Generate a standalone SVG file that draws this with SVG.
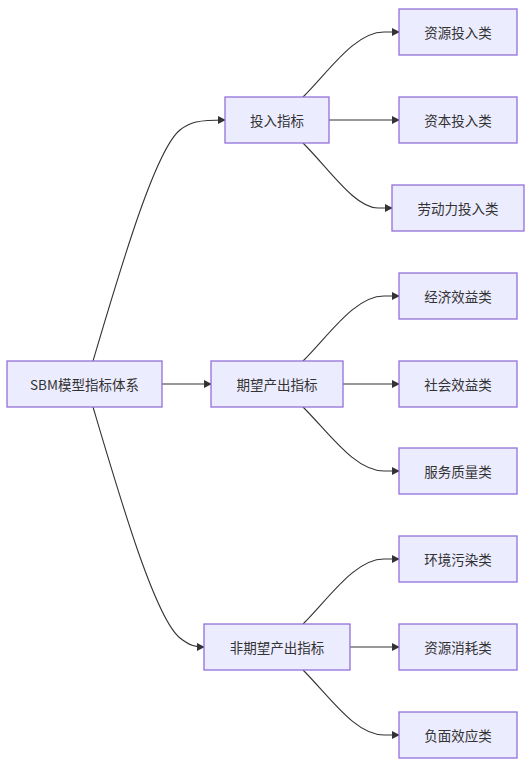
<svg xmlns="http://www.w3.org/2000/svg" width="531" height="768" viewBox="0 0 531 768">
<style>
.n rect{fill:#ECECFF;stroke:#9370DB;stroke-width:1.3}
.n text{font-family:"Noto Sans CJK SC","Liberation Sans",sans-serif;font-size:13.5px;fill:#333;text-anchor:middle;dominant-baseline:central}
.e path{fill:none;stroke:#333;stroke-width:1.1}
</style>
<defs>
<marker id="a" viewBox="0 0 10 10" refX="9" refY="5" markerWidth="8" markerHeight="8" markerUnits="userSpaceOnUse" orient="auto">
<path d="M0,0 L10,5 L0,10 z" fill="#333"/>
</marker>
</defs>
<rect width="531" height="768" fill="#fff"/>
<g class="e">
<path d="M93,361 C120,270 155,150 180,130 C190,122 198,120 225,120" marker-end="url(#a)"/>
<path d="M162,384 L211,384" marker-end="url(#a)"/>
<path d="M93,407 C120,498 155,618 180,638 C190,646 196,647 204,647" marker-end="url(#a)"/>
<path d="M303,97 C330,70 355,32 384,32 L399,32" marker-end="url(#a)"/>
<path d="M329,120 L399,120" marker-end="url(#a)"/>
<path d="M303,143 C330,170 355,208 378,208 L392,208" marker-end="url(#a)"/>
<path d="M303,361 C330,334 355,296 384,296 L399,296" marker-end="url(#a)"/>
<path d="M343,384 L399,384" marker-end="url(#a)"/>
<path d="M303,407 C330,434 355,471 384,471 L399,471" marker-end="url(#a)"/>
<path d="M303,624 C330,597 355,559 384,559 L399,559" marker-end="url(#a)"/>
<path d="M350,647 L399,647" marker-end="url(#a)"/>
<path d="M303,670 C330,697 355,735 384,735 L399,735" marker-end="url(#a)"/>
</g>
<g id="root" class="n"><rect x="7" y="361" width="155" height="46"/><text x="84.5" y="384">SBM模型指标体系</text></g>
<g id="input" class="n"><rect x="225" y="97" width="104" height="46"/><text x="277" y="120">投入指标</text></g>
<g id="desired" class="n"><rect x="211" y="361" width="132" height="46"/><text x="277" y="384">期望产出指标</text></g>
<g id="undesired" class="n"><rect x="204" y="624" width="146" height="46"/><text x="277" y="647">非期望产出指标</text></g>
<g id="l1" class="n"><rect x="399" y="9" width="118" height="46"/><text x="458" y="32">资源投入类</text></g>
<g id="l2" class="n"><rect x="399" y="97" width="118" height="46"/><text x="458" y="120">资本投入类</text></g>
<g id="l3" class="n"><rect x="392" y="185" width="132" height="46"/><text x="458" y="208">劳动力投入类</text></g>
<g id="l4" class="n"><rect x="399" y="273" width="118" height="46"/><text x="458" y="296">经济效益类</text></g>
<g id="l5" class="n"><rect x="399" y="361" width="118" height="46"/><text x="458" y="384">社会效益类</text></g>
<g id="l6" class="n"><rect x="399" y="448" width="118" height="46"/><text x="458" y="471">服务质量类</text></g>
<g id="l7" class="n"><rect x="399" y="536" width="118" height="46"/><text x="458" y="559">环境污染类</text></g>
<g id="l8" class="n"><rect x="399" y="624" width="118" height="46"/><text x="458" y="647">资源消耗类</text></g>
<g id="l9" class="n"><rect x="399" y="712" width="118" height="46"/><text x="458" y="735">负面效应类</text></g>
</svg>
